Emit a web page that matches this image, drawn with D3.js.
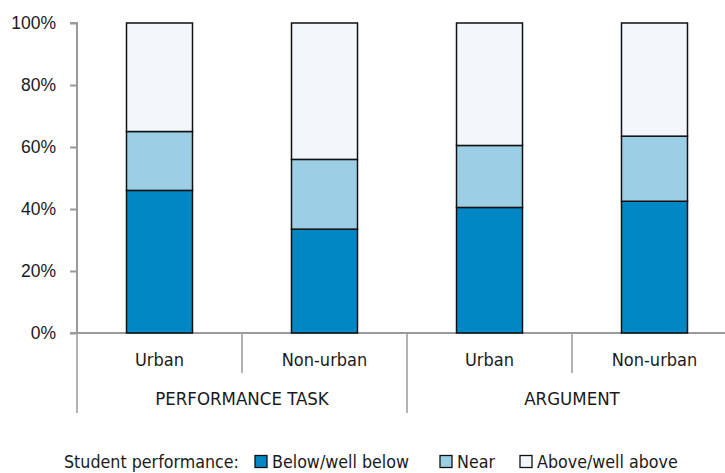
<!DOCTYPE html>
<html><head><meta charset="utf-8">
<script src="https://cdn.jsdelivr.net/npm/d3@7"></script>
<style>
body{margin:0;background:#fff;}
text{font-family:"DejaVu Sans Condensed","Liberation Sans Narrow",sans-serif;fill:#1a1a1a;}
</style></head>
<body><svg id="c" width="725" height="473"></svg>
<script>
const groups = ["PERFORMANCE TASK","ARGUMENT"];
const categories = ["Urban","Non-urban","Urban","Non-urban"];
const categoryGroup = [0,0,1,1];
const seriesNames = ["Below/well below","Near","Above/well above"];
const below = [46, 33.5, 40.5, 42.5];
const near  = [19, 22.5, 20, 21];
const above = [35, 44, 39.5, 36.5];
const yTicks = [0,20,40,60,80,100];
const colors = ["#0087C4","#9CCFE6","#F2F7FC"];

(function(){
const svg = d3.select("#c");
const mLeft = 77, mRight = 737, mTop = 23, mBottom = 333;
const x = d3.scaleBand().domain(d3.range(categories.length)).range([mLeft,mRight]).paddingInner(0).paddingOuter(0);
const y = d3.scaleLinear().domain([0,100]).range([mBottom,mTop]);
const barW = x.bandwidth()*0.4;

// y axis
const yAxis = d3.axisLeft(y).tickValues(yTicks).tickFormat(d=>d+"%").tickSize(7).tickPadding(14);
const gy = svg.append("g").attr("transform",`translate(${mLeft},0)`).call(yAxis);
gy.selectAll("path,line").attr("stroke","#9a9a9a").attr("stroke-width",2);
gy.select(".domain").attr("d",`M-7,${mTop}H0V${mBottom}`);
gy.selectAll("text").style("font-size","17.5px").attr("fill","#1a1a1a").style("font-family","'Liberation Sans',Arial,sans-serif");

// x axis line
svg.append("line").attr("x1",mLeft-7).attr("x2",725).attr("y1",mBottom).attr("y2",mBottom).attr("stroke","#9a9a9a").attr("stroke-width",2);

// stacked bars
const data = categories.map((c,i)=>({i, below:below[i], near:near[i], above:above[i]}));
const stack = d3.stack().keys(["below","near","above"])(data);
stack.forEach((s,k)=>{
  svg.append("g").selectAll("rect").data(s).join("rect")
    .attr("x",d=>x(d.data.i)+(x.bandwidth()-barW)/2)
    .attr("width",barW)
    .attr("y",d=>y(d[1]))
    .attr("height",d=>y(d[0])-y(d[1]))
    .attr("fill",colors[k]).attr("stroke","#111").attr("stroke-width",1.5);
});

// category dividers and labels
const dividerColor = "#9a9a9a";
categories.forEach((c,i)=>{
  const x0 = x(i);
  const isGroupStart = i===0 || categoryGroup[i]!==categoryGroup[i-1];
  svg.append("line").attr("x1",x0).attr("x2",x0).attr("y1",mBottom).attr("y2",isGroupStart?413:373)
    .attr("stroke",dividerColor).attr("stroke-width",1.5);
  svg.append("text").attr("x",x0+x.bandwidth()/2).attr("y",366).attr("text-anchor","middle")
    .style("font-size","18px").text(c);
});
groups.forEach((g,gi)=>{
  const idx = categories.map((c,i)=>i).filter(i=>categoryGroup[i]===gi);
  const gx0 = x(idx[0]), gx1 = x(idx[idx.length-1])+x.bandwidth();
  svg.append("text").attr("x",(gx0+gx1)/2).attr("y",405).attr("text-anchor","middle")
    .style("font-size","18.5px").text(g);
});

// legend
const ly = 468;
svg.append("text").attr("x",64).attr("y",ly).style("font-size","17.7px").text("Student performance:");
const legendX = [255, 440, 520];
seriesNames.forEach((n,k)=>{
  svg.append("rect").attr("x",legendX[k]).attr("y",ly-12.5).attr("width",12).attr("height",12)
    .attr("fill",colors[k]).attr("stroke","#111").attr("stroke-width",1.3);
  svg.append("text").attr("x",legendX[k]+17).attr("y",ly).style("font-size","17.7px").text(n);
});
})();
</script></body></html>
